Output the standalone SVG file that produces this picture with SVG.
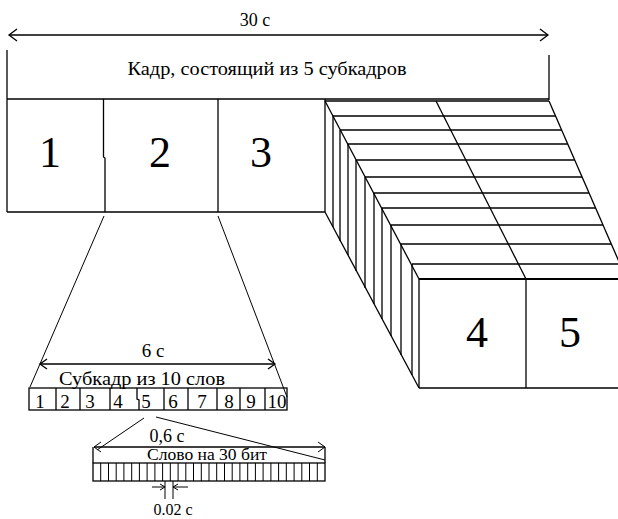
<svg xmlns="http://www.w3.org/2000/svg" width="618" height="519" viewBox="0 0 618 519">
  <style>
    .ln { stroke: #000; stroke-width: 1.3; fill: none; }
    .thin { stroke: #000; stroke-width: 1; fill: none; }
    .bold { stroke: #000; stroke-width: 2; fill: none; }
    text { fill: #000; text-anchor: middle; font-family: "Times New Roman", Times, "Liberation Serif", Tinos, "DejaVu Serif", "Noto Serif", serif; }
    .big { font-size: 44px; }
    .lbl { font-size: 18px; }
    .sm { font-size: 19px; }
    .xs { font-size: 16px; }
  </style>
  <rect width="618" height="519" fill="#fff"/>

  <!-- whole frame: 30 s span and its caption -->
  <g id="frame">
    <line class="ln" x1="9" y1="35" x2="548" y2="35"/>
    <polyline class="ln" points="17,29 9,35 17,41"/>
    <polyline class="ln" points="540,29 548,35 540,41"/>
    <text class="lbl" x="255" y="26">30 с</text>
    <line class="ln" x1="7" y1="50" x2="7" y2="212"/>
    <line class="ln" x1="549" y1="55" x2="549" y2="100"/>
    <line class="ln" x1="7" y1="99" x2="549" y2="99"/>
    <text class="lbl" x="267" y="75" textLength="279" lengthAdjust="spacingAndGlyphs">Кадр, состоящий из 5 субкадров</text>
  </g>

  <!-- subframes 1-3 -->
  <g id="subframe-1">
    <polyline class="ln" points="7,212 105,212"/>
    <text class="big" x="50" y="167">1</text>
  </g>
  <g id="subframe-2">
    <polyline class="ln" points="103.5,99 103.5,157 105,158 105,212"/>
    <line class="ln" x1="105" y1="212" x2="218" y2="212"/>
    <text class="big" x="160" y="167">2</text>
  </g>
  <g id="subframe-3">
    <line class="ln" x1="218" y1="99" x2="218" y2="212"/>
    <line class="ln" x1="218" y1="212" x2="325" y2="212"/>
    <line class="ln" x1="325" y1="99" x2="325" y2="212"/>
    <text class="big" x="261" y="167">3</text>
  </g>

  <!-- stacked subframes receding toward 4 and 5 -->
  <g id="stack">
    <!-- slanted edges -->
    <line class="ln" x1="325" y1="101" x2="419" y2="279"/>
    <line class="ln" x1="325" y1="212" x2="419" y2="388"/>
    <line class="ln" x1="436" y1="101" x2="526" y2="279"/>
    <line class="ln" x1="549" y1="101" x2="620" y2="264"/>
    <!-- slice tops -->
    <line class="ln" x1="325" y1="101" x2="549" y2="101"/>
    <line class="ln" x1="333" y1="116" x2="555.5" y2="116"/>
    <line class="ln" x1="340" y1="130" x2="561.6" y2="130"/>
    <line class="ln" x1="348" y1="144" x2="567.7" y2="144"/>
    <line class="ln" x1="356" y1="160" x2="574.7" y2="160"/>
    <line class="ln" x1="365" y1="177" x2="582" y2="177"/>
    <line class="ln" x1="374" y1="193" x2="589" y2="193"/>
    <line class="ln" x1="382" y1="208" x2="595.5" y2="208"/>
    <line class="ln" x1="391" y1="225" x2="603" y2="225"/>
    <line class="ln" x1="401" y1="244" x2="611" y2="244"/>
    <line class="ln" x1="412" y1="264" x2="618" y2="264"/>
    <!-- slice sides -->
    <line class="ln" x1="333" y1="116" x2="333" y2="227"/>
    <line class="ln" x1="340" y1="130" x2="340" y2="241"/>
    <line class="ln" x1="348" y1="144" x2="348" y2="255"/>
    <line class="ln" x1="356" y1="160" x2="356" y2="271"/>
    <line class="ln" x1="365" y1="177" x2="365" y2="288"/>
    <line class="ln" x1="374" y1="193" x2="374" y2="304"/>
    <line class="ln" x1="382" y1="208" x2="382" y2="319"/>
    <line class="ln" x1="391" y1="225" x2="391" y2="336"/>
    <line class="ln" x1="401" y1="244" x2="401" y2="355"/>
    <line class="ln" x1="412" y1="264" x2="412" y2="375"/>
  </g>

  <g id="subframe-4">
    <line class="bold" x1="419" y1="279" x2="526" y2="279"/>
    <line class="ln" x1="419" y1="279" x2="419" y2="388"/>
    <line class="ln" x1="419" y1="388" x2="526" y2="388"/>
    <text class="big" x="477" y="347">4</text>
  </g>
  <g id="subframe-5">
    <line class="bold" x1="526" y1="279" x2="618" y2="279"/>
    <line class="ln" x1="526" y1="279" x2="526" y2="388"/>
    <line class="ln" x1="526" y1="388" x2="618" y2="388"/>
    <text class="big" x="570" y="347">5</text>
  </g>

  <!-- subframe of 10 words -->
  <g id="subframe-words">
    <line class="ln" x1="40" y1="364" x2="275" y2="364"/>
    <polyline class="ln" points="47,359 40,364 47,369"/>
    <polyline class="ln" points="268,359 275,364 268,369"/>
    <text class="sm" x="153" y="357">6 с</text>
    <text class="sm" x="142" y="385" textLength="166" lengthAdjust="spacingAndGlyphs">Субкадр из 10 слов</text>
    <rect class="ln" x="29" y="388" width="258" height="22"/>
    <line class="ln" x1="56" y1="388" x2="56" y2="410"/>
    <line class="ln" x1="80" y1="388" x2="80" y2="410"/>
    <line class="ln" x1="110" y1="388" x2="110" y2="410"/>
    <polyline class="ln" points="137,388 137,399 139,400 139,410"/>
    <line class="ln" x1="164" y1="388" x2="164" y2="410"/>
    <line class="ln" x1="188" y1="388" x2="188" y2="410"/>
    <line class="ln" x1="217" y1="388" x2="217" y2="410"/>
    <line class="ln" x1="240" y1="388" x2="240" y2="410"/>
    <line class="ln" x1="265" y1="388" x2="265" y2="410"/>
    <text class="sm" x="40" y="408">1</text>
    <text class="sm" x="65" y="408">2</text>
    <text class="sm" x="90" y="408">3</text>
    <text class="sm" x="118" y="408">4</text>
    <text class="sm" x="146" y="408">5</text>
    <text class="sm" x="173" y="408">6</text>
    <text class="sm" x="202" y="408">7</text>
    <text class="sm" x="229" y="408">8</text>
    <text class="sm" x="251" y="408">9</text>
    <text class="sm" x="277" y="408">10</text>
  </g>

  <!-- word of 30 bits -->
  <g id="word-bits">
    <line class="ln" x1="94" y1="447" x2="325" y2="447"/>
    <polyline class="thin" points="101,442 94,447 101,452"/>
    <polyline class="thin" points="318,442 325,447 318,452"/>
    <text class="lbl" x="167" y="442">0,6 с</text>
    <text class="xs" x="207" y="460" textLength="120" lengthAdjust="spacingAndGlyphs">Слово на 30 бит</text>
    <line class="ln" x1="93" y1="447" x2="93" y2="463"/>
    <line class="ln" x1="325" y1="447" x2="325" y2="463"/>
    <rect class="ln" x="93" y="463" width="232" height="18"/>
    <path class="thin" d="M100.7,463v18M108.5,463v18M116.2,463v18M123.9,463v18M131.7,463v18M139.4,463v18M147.1,463v18M154.9,463v18M162.6,463v18M170.3,463v18M178.1,463v18M185.8,463v18M193.5,463v18M201.3,463v18M209,463v18M216.7,463v18M224.5,463v18M232.2,463v18M239.9,463v18M247.7,463v18M255.4,463v18M263.1,463v18M270.9,463v18M278.6,463v18M286.3,463v18M294.1,463v18M301.8,463v18M309.5,463v18M317.3,463v18"/>
    <!-- one bit width -->
    <line class="thin" x1="165" y1="481" x2="165" y2="499"/>
    <line class="thin" x1="173" y1="481" x2="173" y2="499"/>
    <line class="thin" x1="152" y1="487" x2="165" y2="487"/>
    <polyline class="thin" points="160,484 165,487 160,490"/>
    <line class="thin" x1="173" y1="487" x2="188" y2="487"/>
    <polyline class="thin" points="178,484 173,487 178,490"/>
    <text class="xs" x="173" y="515">0.02 с</text>
  </g>

  <!-- projection lines -->
  <g id="connectors">
    <line class="thin" x1="104" y1="216" x2="30" y2="387"/>
    <line class="thin" x1="218" y1="216" x2="287" y2="397"/>
    <line class="thin" x1="144" y1="418" x2="97" y2="450"/>
    <line class="thin" x1="156" y1="417" x2="325" y2="460"/>
  </g>
</svg>
